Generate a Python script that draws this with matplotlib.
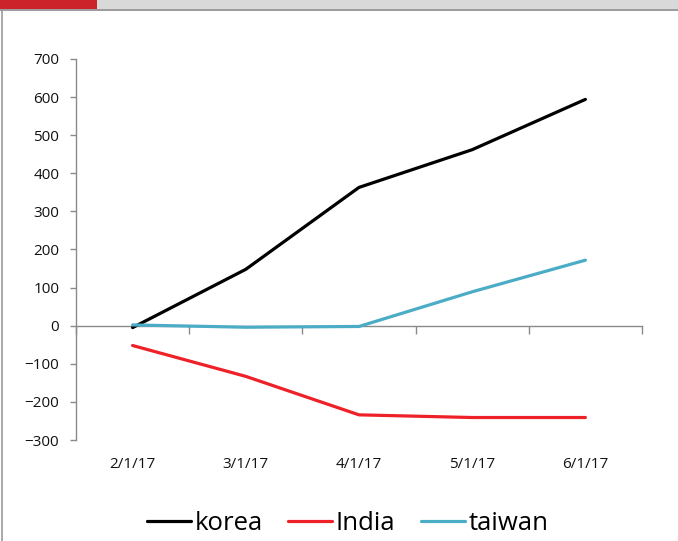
import matplotlib

matplotlib.use("Agg")
import matplotlib.pyplot as plt
from matplotlib.patches import Rectangle
from matplotlib.lines import Line2D

plt.rcParams["font.family"] = ["Open Sans", "DejaVu Sans"]

dates = ["2/1/17", "3/1/17", "4/1/17", "5/1/17", "6/1/17"]
korea = [-5, 148, 363, 462, 594]
india = [-52, -133, -234, -241, -241]
taiwan = [2, -4, -2, 89, 172]

W, H = 678, 541
fig = plt.figure(figsize=(W / 100, H / 100), dpi=100)

# window chrome: grey strip on top with a red tab, thin frame lines
fig.patches.append(Rectangle((0, 1 - 9 / H), 1, 9 / H, transform=fig.transFigure,
                             facecolor="#d9d9d9", edgecolor="none"))
fig.patches.append(Rectangle((0, 1 - 9 / H), 97 / W, 9 / H, transform=fig.transFigure,
                             facecolor="#cc2229", edgecolor="none"))
fig.lines.append(Line2D([0, 1], [1 - 10 / H, 1 - 10 / H], transform=fig.transFigure,
                        color="#8a8a8a", lw=1.2))
fig.lines.append(Line2D([1.5 / W, 1.5 / W], [0, 1 - 10 / H], transform=fig.transFigure,
                        color="#9a9a9a", lw=1.2))

ax = fig.add_axes([76 / W, 1 - 440 / H, (642 - 76) / W, (440 - 59) / H])
x = list(range(len(dates)))
ax.plot(x, korea, color="black", lw=2.3, label="korea", solid_capstyle="round")
ax.plot(x, india, color="#ee2028", lw=2.3, label="India", solid_capstyle="round")
ax.plot(x, taiwan, color="#4bacc6", lw=2.3, label="taiwan", solid_capstyle="round")

ax.set_xlim(-0.5, len(dates) - 0.5)
ax.set_ylim(-300, 700)
ax.set_yticks(range(-300, 701, 100))
ax.set_xticks(x)
ax.set_xticklabels(dates)
ax.tick_params(axis="x", length=0, pad=12, labelsize=11, labelcolor="#111111")
ax.tick_params(axis="y", length=4, width=1, color="#8a8a8a", pad=8,
               labelsize=11, labelcolor="#111111")
for s in ("top", "right", "bottom"):
    ax.spines[s].set_visible(False)
ax.spines["left"].set_color("#8a8a8a")
ax.spines["left"].set_linewidth(1)

# category axis drawn at y = 0 with boundary ticks
frac0 = (0 - (-300)) / 1000
sec = ax.secondary_xaxis(frac0)
sec.set_xticks([i - 0.5 for i in range(len(dates) + 1)])
sec.set_xticklabels([])
sec.tick_params(axis="x", direction="out", length=6, width=1, color="#8a8a8a")
sec.spines["bottom"].set_color("#8a8a8a")
sec.spines["bottom"].set_linewidth(1)
ax.set_zorder(1)

fig.legend(loc="center", bbox_to_anchor=(0.513, 1 - 523 / H), ncol=3, frameon=False,
           fontsize=18.5, handlelength=1.7, handletextpad=0.15, columnspacing=1.0)

fig.savefig("out.png", dpi=100)
